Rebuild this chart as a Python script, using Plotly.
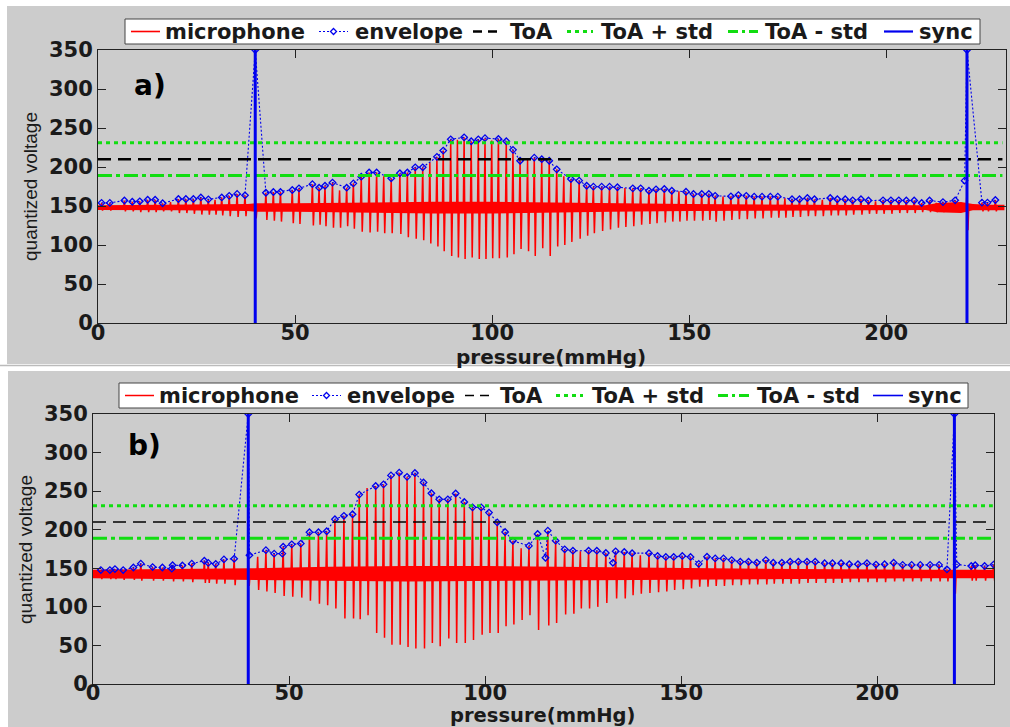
import plotly.graph_objects as go

# ---------------- data: panel a) ----------------
env_a_x = [0.9, 3.0, 6.7, 8.7, 10.6, 12.6, 14.5, 16.4, 20.4, 22.3, 24.2, 26.1, 28.0, 31.4, 33.3, 35.3, 37.3,
           39.9, 42.6, 44.5, 46.3, 49.3, 51.0, 54.4, 56.1, 57.6, 59.5, 63.1, 64.8, 66.8, 68.8, 70.7, 74.4,
           76.6, 78.5, 80.5, 82.4, 86.0, 87.6, 89.5, 92.9, 94.7, 96.5, 98.2, 101.6, 103.6, 105.3, 107.1,
           110.7, 112.6, 114.5, 116.4, 120.0, 122.1, 124.0, 125.7, 127.8, 129.8, 131.8, 135.7, 137.7,
           139.8, 141.6, 143.7, 145.6, 149.2, 151.1, 153.2, 155.0, 156.6, 160.6, 162.5, 164.5, 166.5,
           168.5, 170.6, 172.5, 176.1, 178.0, 180.0, 181.8, 185.8, 187.6, 189.6, 191.5, 193.6, 195.5,
           199.2, 201.2, 203.2, 205.1, 207.1, 209.0, 211.0, 214.4, 217.5, 219.9, 220.5, 224.3, 225.7, 227.7]
env_a_y = [154, 154, 157, 155.5, 156, 158, 158, 153.5, 159, 159, 159, 161, 158.5, 161, 163, 165.5, 163.7,
           350, 167, 168, 168, 170.5, 172.6, 178, 173.5, 176, 180, 173.5, 179, 187.6, 193, 193, 185.5,
           192, 193, 199.6, 199.6, 213, 221, 235.5, 238, 233, 235.5, 237, 236, 233, 222, 208,
           212, 210, 208, 197, 184.6, 182.5, 176, 174.8, 174.8, 174.8, 174, 172.6, 172.6,
           169.6, 171.4, 171.8, 169.6, 168.3, 165.4, 165.4, 165.4, 163, 162.4, 164, 163, 162,
           162, 162, 162, 158.6, 158.6, 160.3, 158.6, 160.3, 158.6, 158.6, 157.3, 158.6, 157,
           157.3, 157.3, 157.3, 157, 157, 153.8, 157, 155, 157.3, 182.5, 350, 154.3, 154.3, 157.7]

mic_a_x = [0.9, 3.0, 6.7, 8.7, 10.6, 12.6, 14.5, 16.4, 18.4, 20.4, 22.3, 24.2, 26.1, 28.0, 29.7, 31.4, 33.3,
           35.3, 37.3, 39.9, 42.6, 44.5, 46.3, 49.3, 51.0, 54.4, 56.1, 57.6, 59.5, 61.3, 63.1, 64.8, 66.8,
           68.8, 70.7, 72.5, 74.4, 76.6, 78.5, 80.5, 82.4, 84.2, 86.0, 87.6, 89.5, 91.2, 92.9, 94.7, 96.5,
           98.2, 99.9, 101.6, 103.6, 105.3, 107.1, 109.0, 110.7, 112.6, 114.5, 116.4, 118.2, 120.0, 122.1,
           124.0, 125.7, 127.8, 129.8, 131.8, 133.7, 135.7, 137.7, 139.8, 141.6, 143.7, 145.6, 147.4, 149.2,
           151.1, 153.2, 155.0, 156.6, 158.6, 160.6, 162.5, 164.5, 166.5, 168.5, 170.6, 172.5, 174.3, 176.1,
           178.0, 180.0, 181.8, 183.8, 185.8, 187.6, 189.6, 191.5, 193.6, 195.5, 197.3, 199.2, 201.2, 203.2,
           205.1, 207.1, 209.0, 211.0, 212.7, 214.4, 217.5, 220.5, 224.3, 225.7, 227.7]
mic_a_hi = [154, 154, 157, 155.5, 156, 158, 158, 153.5, 155, 159, 159, 159, 161, 158.5, 158, 161, 163,
            165.5, 163.7, 164, 167, 168, 168, 170.5, 172.6, 178, 173.5, 176, 180, 170, 173.5, 179, 187.6,
            193, 193, 188, 185.5, 192, 193, 199.6, 199.6, 206, 213, 221, 235.5, 235, 238, 233, 235.5,
            237, 234, 236, 233, 222, 208, 209, 212, 210, 208, 197, 188, 184.6, 182.5,
            176, 174.8, 174.8, 174.8, 174, 173, 172.6, 172.6, 169.6, 171.4, 171.8, 169.6, 169, 168.3,
            165.4, 165.4, 165.4, 163, 162, 162.4, 164, 163, 162, 162, 162, 162, 160, 158.6,
            158.6, 160.3, 158.6, 158, 160.3, 158.6, 158.6, 157.3, 158.6, 157, 156, 157.3, 157.3, 157.3,
            157, 157, 153.8, 157, 154, 155, 157.3, 168, 154.3, 154.3, 157.7]
mic_a_lo = [144, 144, 143, 143, 142, 142, 142, 143, 143, 141, 141, 140, 139, 139, 139, 138, 137,
            136, 137, 134, 132, 131, 130, 128, 127, 125, 126, 124, 122, 122, 124, 121, 117,
            116, 117, 115, 115, 114, 110, 108, 106, 102, 98, 92, 86, 84, 82, 84, 82,
            82, 83, 83, 84, 88, 95, 92, 86, 96, 86, 98, 100, 104, 108,
            112, 115, 118, 120, 122, 123, 124, 126, 127, 128, 129, 130, 130, 131,
            131, 131, 132, 130, 131, 132, 133, 133, 134, 134, 135, 135, 135, 136,
            136, 137, 137, 137, 138, 138, 138, 139, 139, 140, 140, 140, 140, 141,
            141, 141, 142, 142, 142, 142, 143, 119, 143, 143, 143]
mic_a_base = 148
noise_a_x = [0, 20, 38, 40, 50, 70, 85, 100, 115, 130, 150, 180, 210, 213, 219, 222, 226, 230]
noise_a_hi = [151, 151.5, 152.5, 153.5, 153.5, 154.5, 155.5, 155.5, 154.5, 153.5, 152.5, 151.5, 151, 154, 155, 152.5, 151.5, 151.5]
noise_a_lo = [145, 144.5, 143.5, 142.5, 142.5, 141.5, 140.5, 140.5, 141.5, 142.5, 143.5, 144.5, 145, 142, 141, 144.5, 144.5, 144.5]
sync_a_x = [39.9, 220.5]

# ---------------- data: panel b) ----------------
env_b_x = [2.0, 4.3, 5.6, 7.7, 10.3, 12.2, 15.2, 17.7, 20.1, 20.3, 22.8, 25.2, 28.4, 29.4, 31.3, 33.4, 36.0,
           39.6, 39.9, 44.1, 46.2, 48.3, 48.5, 50.7, 53.0, 55.2, 57.5, 59.6, 61.7, 64.0, 66.2, 67.9, 72.1,
           74.1, 76.0, 78.1, 80.1, 82.1, 84.3, 86.3, 88.3, 90.5, 92.5, 94.7, 96.8, 99.0, 101.0, 103.1,
           105.1, 107.1, 111.2, 113.4, 115.4, 116.0, 118.0, 120.3, 122.4, 126.4, 128.5, 130.8, 132.6,
           133.3, 135.5, 137.5, 141.8, 144.0, 146.1, 148.1, 150.3, 152.4, 154.5, 156.6, 158.7, 160.8,
           162.9, 165.1, 167.2, 169.3, 171.6, 173.5, 175.7, 177.8, 179.9, 182.1, 184.2, 186.6, 188.6,
           190.8, 192.9, 195.1, 197.4, 199.7, 201.9, 204.2, 206.5, 208.8, 211.0, 213.5, 215.8, 217.8,
           219.7, 220.3, 224.0, 225.0, 227.4, 229.7]
env_b_y = [147.7, 147.7, 149, 147.7, 151, 156, 151.6, 151, 149.5, 154, 153.7, 156, 159.8, 157, 155.5, 161.5, 162.4,
           350, 167, 173.5, 169, 169, 178, 181, 182, 196.8, 196.8, 198, 213.6, 218, 220, 245.5, 256.7,
           258.8, 270.4, 274, 268.5, 273.5, 261.2, 247.3, 239.4, 239.4, 246.9, 236, 229, 229, 222.2, 209.5,
           197, 185.6, 179, 194.5, 163.7, 198.8, 185.8, 174.6, 172.8, 172.8, 172.8, 169.8, 157.1,
           172, 171.2, 169.6, 169.6, 166, 164.7, 164.7, 166, 164.7, 155.7, 165, 162.8, 162.8,
           160.6, 158.5, 158.5, 157.2, 160.6, 157.2, 157.2, 158.5, 158.5, 158.5, 158.5, 156.5, 156.5,
           156.5, 155.2, 155.2, 156.5, 154.8, 155.2, 157.2, 154.4, 154.4, 154.4, 154.4, 154.4, 148.6,
           350, 154.8, 153, 154, 153, 154.8]

mic_b_x = [2.0, 4.3, 5.6, 7.7, 10.3, 12.2, 15.2, 17.7, 20.3, 22.8, 25.2, 28.4, 29.4, 31.3, 33.4, 36.0,
           39.6, 42.0, 44.1, 46.2, 48.5, 50.7, 53.0, 55.2, 57.5, 59.6, 61.7, 64.0, 66.2, 67.9, 69.9, 72.1,
           74.1, 76.0, 78.1, 80.1, 82.1, 84.3, 86.3, 88.3, 90.5, 92.5, 94.7, 96.8, 99.0, 101.0, 103.1,
           105.1, 107.1, 109.2, 111.2, 113.4, 116.0, 118.0, 120.3, 122.4, 124.3, 126.4, 128.5, 130.8,
           133.3, 135.5, 137.5, 139.6, 141.8, 144.0, 146.1, 148.1, 150.3, 152.4, 154.5, 156.6, 158.7,
           160.8, 162.9, 165.1, 167.2, 169.3, 171.6, 173.5, 175.7, 177.8, 179.9, 182.1, 184.2, 186.6,
           188.6, 190.8, 192.9, 195.1, 197.4, 199.7, 201.9, 204.2, 206.5, 208.8, 211.0, 213.5, 215.8,
           217.8, 219.7, 224.0, 225.0, 227.4, 229.7]
mic_b_hi = [147.7, 147.7, 149, 147.7, 151, 156, 151.6, 151, 154, 153.7, 156, 159.8, 157, 155.5, 161.5, 162.4,
            163, 165, 173.5, 169, 178, 181, 182, 196.8, 196.8, 198, 213.6, 218, 220, 245.5, 254, 256.7,
            258.8, 270.4, 274, 268.5, 273.5, 261.2, 247.3, 239.4, 239.4, 246.9, 236, 229, 229, 222.2, 209.5,
            197, 185.6, 176, 179, 194.5, 198.8, 185.8, 174.6, 172.8, 172, 172.8, 172.8, 169.8,
            172, 171.2, 169.6, 167, 169.6, 166, 164.7, 164.7, 166, 164.7, 155.7, 165, 162.8,
            162.8, 160.6, 158.5, 158.5, 157.2, 160.6, 157.2, 157.2, 158.5, 158.5, 158.5, 158.5, 156.5,
            156.5, 156.5, 155.2, 155.2, 156.5, 154.8, 155.2, 157.2, 154.4, 154.4, 154.4, 154.4, 154.4,
            148.6, 186, 153, 154, 153, 154.8]
mic_b_lo = [136, 136, 136, 135, 135, 134, 134, 134, 133, 133, 132, 131, 131, 130, 130, 128,
            127, 122, 120, 118, 114, 113, 112, 108, 104, 102, 98, 85, 85, 84, 89, 66,
            60, 51, 51, 48, 46, 46, 53, 49, 59, 53, 53, 57, 64, 66, 66,
            75, 77, 83, 89, 70, 76, 79, 90, 91, 98, 98, 100, 105,
            111, 111, 115, 117, 118, 119, 120, 122, 123, 124, 126, 126, 127,
            127, 128, 128, 129, 129, 129, 130, 130, 130, 130, 131, 131, 131,
            131, 131, 132, 132, 132, 132, 132, 133, 133, 133, 133, 133, 133,
            133, 117, 134, 134, 134, 134]
mic_b_base = 142.5
noise_b_x = [0, 20, 40, 60, 80, 100, 120, 150, 180, 210, 230]
noise_b_hi = [148, 149, 150, 152, 153, 153, 152, 150, 149, 148, 148]
noise_b_lo = [137, 136, 135, 134, 133, 133, 134, 135, 136, 137, 137]
sync_b_x = [39.6, 219.7]

# ---------------- shared ----------------
toa = 210
toa_plus_std = 231
toa_minus_std = 189
sync_top = 350
x_ticks = [0, 50, 100, 150, 200]
y_ticks = [0, 50, 100, 150, 200, 250, 300, 350]
legend_names = ["microphone", "envelope", "ToA", "ToA + std", "ToA - std", "sync"]

W, H = 1010, 727
GRAY = "#cccccc"
RED = "#ff0000"
BLUE = "#0000ee"
GREEN = "#11dd11"
TEXT = "#1a1a1a"
FONT = "DejaVu Sans"


def px(x):
    return x / W


def py(y):
    return 1 - y / H


def spikes(xs, his, los, base, x_end):
    X, Y = [0], [base]
    for x, h, l in zip(xs, his, los):
        X += [x - 0.2, x, x + 0.25, x + 0.45]
        Y += [base, h, l, base]
    X.append(x_end)
    Y.append(base)
    return X, Y


fig = go.Figure()


def add_panel(xa, ya, env_x, env_y, mic_x, mic_hi, mic_lo, base, nx, nhi, nlo, sync_x, x_end, toa_w):
    common = dict(xaxis=xa, yaxis=ya, showlegend=False)
    fig.add_trace(go.Scatter(x=nx + nx[::-1], y=nhi + nlo[::-1], fill="toself", fillcolor=RED,
                             line=dict(width=0, color=RED), mode="lines", hoverinfo="skip", **common))
    mx, my = spikes(mic_x, mic_hi, mic_lo, base, x_end)
    fig.add_trace(go.Scatter(x=mx, y=my, mode="lines", name=legend_names[0],
                             line=dict(color=RED, width=1.5), **common))
    fig.add_trace(go.Scatter(x=env_x, y=env_y, mode="lines+markers", name=legend_names[1],
                             line=dict(color=BLUE, width=1.1, dash="2px,2px"),
                             marker=dict(symbol="diamond-open", size=5, color=BLUE,
                                         line=dict(width=1.3, color=BLUE)), **common))
    fig.add_trace(go.Scatter(x=[0, x_end], y=[toa, toa], mode="lines", name=legend_names[2],
                             line=dict(color="black", width=toa_w, dash="13px,7px"), **common))
    fig.add_trace(go.Scatter(x=[0, x_end], y=[toa_plus_std, toa_plus_std], mode="lines", name=legend_names[3],
                             line=dict(color=GREEN, width=3, dash="4px,4px"), **common))
    fig.add_trace(go.Scatter(x=[0, x_end], y=[toa_minus_std, toa_minus_std], mode="lines", name=legend_names[4],
                             line=dict(color=GREEN, width=3, dash="14px,4px,4px,4px"), **common))
    fig.add_trace(go.Scatter(x=[sync_x[0], sync_x[0], None, sync_x[1], sync_x[1]],
                             y=[0, sync_top, None, 0, sync_top], mode="lines", name=legend_names[5],
                             line=dict(color=BLUE, width=3), **common))


add_panel("x", "y", env_a_x, env_a_y, mic_a_x, mic_a_hi, mic_a_lo, mic_a_base,
          noise_a_x, noise_a_hi, noise_a_lo, sync_a_x, 229.5, 2.6)
add_panel("x2", "y2", env_b_x, env_b_y, mic_b_x, mic_b_hi, mic_b_lo, mic_b_base,
          noise_b_x, noise_b_hi, noise_b_lo, sync_b_x, 229.5, 1.5)

# ---------------- figure panels and legends ----------------
shapes = [
    dict(type="rect", xref="paper", yref="paper", x0=px(7), x1=px(1010), y0=py(364), y1=py(6),
         fillcolor=GRAY, line=dict(width=0), layer="below"),
    dict(type="line", xref="paper", yref="paper", x0=0, x1=1, y0=py(365.5), y1=py(365.5),
         line=dict(color="#bbbbbb", width=1.5), layer="below"),
    dict(type="rect", xref="paper", yref="paper", x0=px(8), x1=px(1010), y0=py(727), y1=py(371),
         fillcolor=GRAY, line=dict(width=0), layer="below"),
]
annotations = []

leg_styles = [
    dict(color=RED, dash="solid"),
    dict(color=BLUE, dash="2px,2px"),
    dict(color="black", dash="9px,6px"),
    dict(color=GREEN, dash="4px,4px"),
    dict(color=GREEN, dash="10px,4px,3px,4px"),
    dict(color=BLUE, dash="solid"),
]


def draw_legend(box, samples, text_x, widths):
    bx0, bx1, by0, by1 = box
    yc = (by0 + by1) / 2
    shapes.append(dict(type="rect", xref="paper", yref="paper", x0=px(bx0), x1=px(bx1),
                       y0=py(by1), y1=py(by0), fillcolor="white", line=dict(color="#444", width=1)))
    for i, name in enumerate(legend_names):
        s0, s1 = samples[i]
        st = leg_styles[i]
        shapes.append(dict(type="line", xref="paper", yref="paper", x0=px(s0), x1=px(s1),
                           y0=py(yc), y1=py(yc), line=dict(color=st["color"], dash=st["dash"], width=widths[i])))
        if i == 1:
            m = (s0 + s1) / 2
            d = 3
            path = "M {a},{b} L {c},{e} L {a},{f} L {g},{e} Z".format(
                a=px(m), b=py(yc - d), c=px(m + d), e=py(yc), f=py(yc + d), g=px(m - d))
            shapes.append(dict(type="path", xref="paper", yref="paper", path=path,
                               line=dict(color=BLUE, width=1.3), fillcolor="white"))
        annotations.append(dict(text=name, x=px(text_x[i]), y=py(yc + 0.5), xref="paper", yref="paper",
                                xanchor="left", yanchor="middle", showarrow=False,
                                font=dict(family=FONT, size=21, color=TEXT, weight="bold")))


draw_legend((125, 980, 19, 44),
            [(131, 160), (319, 348), (473, 501), (567, 593), (728, 758), (884, 913)],
            [163, 353, 508, 599, 763, 917],
            [1.6, 1.2, 2.6, 3, 3, 2.2])
draw_legend((119, 968, 383, 408),
            [(125, 154), (312, 341), (465, 493), (556, 583), (718, 751), (873, 903)],
            [157, 345, 498, 590, 755, 906],
            [1.5, 1.0, 1.5, 3, 3, 1.6])


def label(text, x, y, size, family=FONT, bold=True, angle=0, color=TEXT):
    annotations.append(dict(text=text, x=px(x), y=py(y), xref="paper", yref="paper", showarrow=False,
                            xanchor="center", yanchor="middle", textangle=angle,
                            font=dict(family=family, size=size, color=color,
                                      weight="bold" if bold else "normal")))


label("a)", 150, 85, 28, color="black")
label("b)", 144, 445, 28, color="black")
label("quantized voltage", 30, 187, 19, family="Liberation Sans", bold=False, angle=-90)
label("quantized voltage", 25, 550, 19, family="Liberation Sans", bold=False, angle=-90)
label("pressure(mmHg)", 551, 357, 20)
label("pressure(mmHg)", 542, 715.5, 19.5)

tickfont = dict(family=FONT, size=21, color=TEXT, weight="bold")
axis_common = dict(showgrid=False, zeroline=False, showline=True, linecolor="#222", linewidth=1,
                   mirror="ticks", ticks="inside", ticklen=8, tickcolor="#222", tickfont=tickfont)

fig.update_layout(
    width=W, height=H, autosize=False,
    margin=dict(l=0, r=0, t=0, b=0, pad=0, autoexpand=False),
    paper_bgcolor="white", plot_bgcolor="white",
    showlegend=False,
    xaxis=dict(domain=[px(98), px(1006)], range=[0, 230.4], tickvals=x_ticks, anchor="y",
               ticklabelstandoff=-9, **axis_common),
    yaxis=dict(domain=[py(323), py(50)], range=[0, 350], tickvals=y_ticks, anchor="x", **axis_common),
    xaxis2=dict(domain=[px(93), px(994)], range=[0, 229.8], tickvals=x_ticks, anchor="y2",
                ticklabelstandoff=-10, **axis_common),
    yaxis2=dict(domain=[py(684), py(414)], range=[0, 350], tickvals=y_ticks, anchor="x2", **axis_common),
    shapes=shapes,
    annotations=annotations,
)

fig.write_html("out.html", config={"displayModeBar": False},
               post_script="document.body.style.margin='0px';")
